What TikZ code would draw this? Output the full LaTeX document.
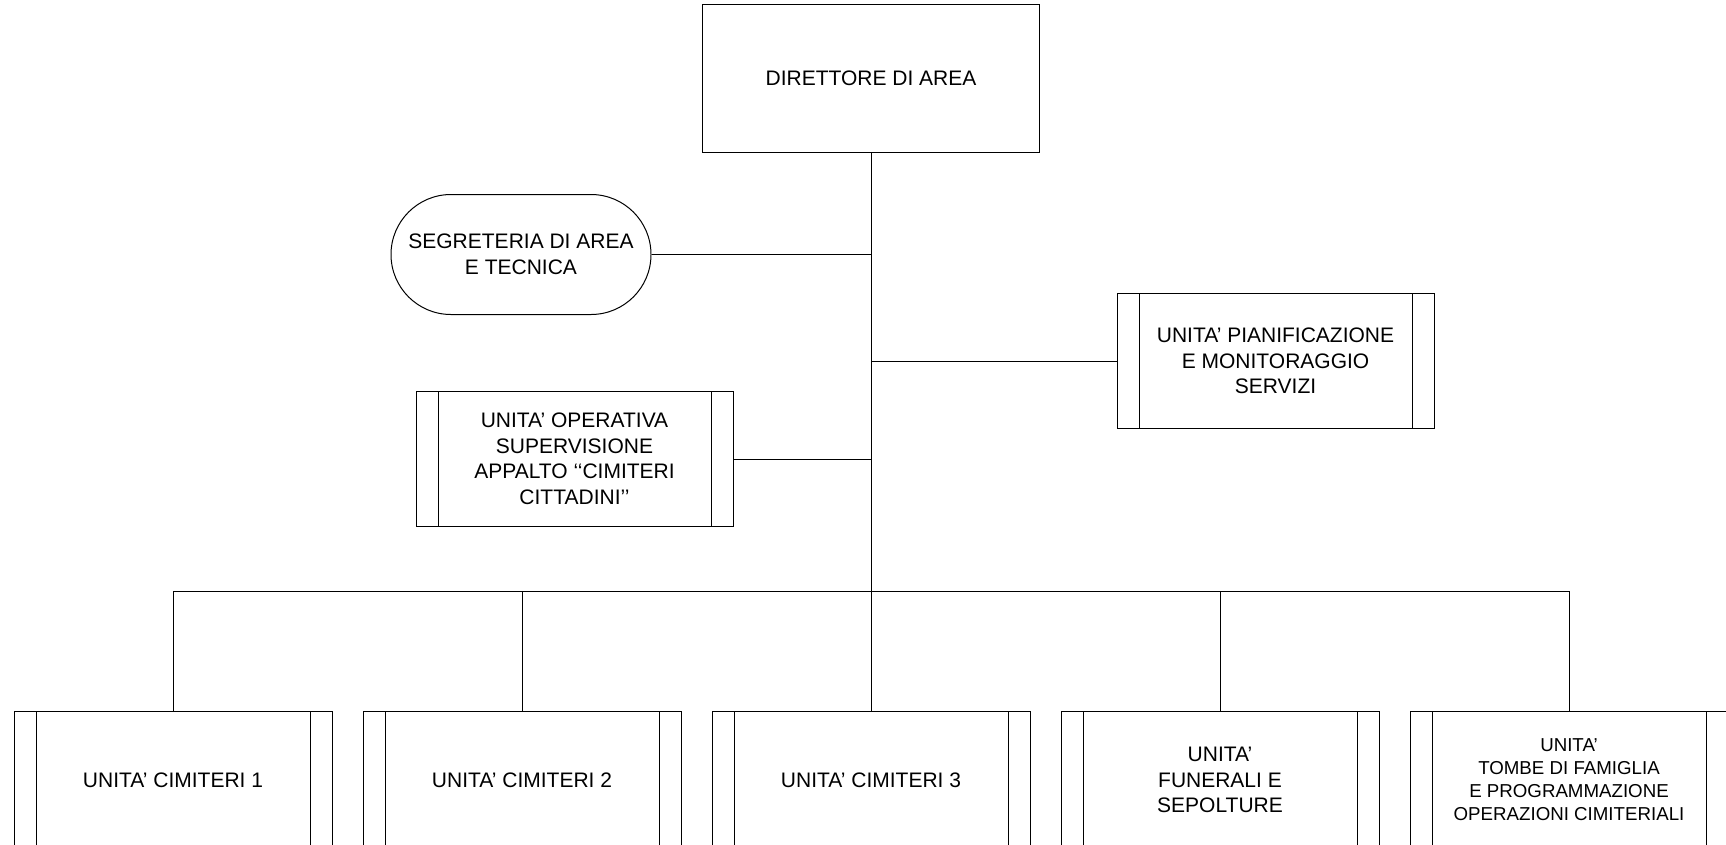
\documentclass[tikz,border=0pt]{standalone}
\usepackage{fontspec}
\setmainfont{Liberation Sans}
\begin{document}
\begin{tikzpicture}[x=1pt,y=-1pt, line width=1pt,
  box/.style={draw, line width=1pt, rectangle, align=center, inner sep=0pt,
    font=\fontsize{21}{25.5}\selectfont},
  unit/.style={box, minimum width=318pt, minimum height=136pt,
    path picture={
      \draw[line width=1pt] ([xshift=22pt]path picture bounding box.north west) -- ([xshift=22pt]path picture bounding box.south west);
      \draw[line width=1pt] ([xshift=-22pt]path picture bounding box.north east) -- ([xshift=-22pt]path picture bounding box.south east);
    }},
  small/.style={font=\fontsize{18.7}{23}\selectfont}
]
\useasboundingbox (0,0) rectangle (1726,844);
\clip (0,0) rectangle (1726,844);

\node[box, minimum width=337pt, minimum height=148pt] (dir) at (871,78) {DIRETTORE DI AREA};
\node[box, minimum width=260pt, minimum height=120pt, rounded corners=60pt] (seg) at (521,254.5) {SEGRETERIA DI AREA\\E TECNICA};
\node[unit, minimum width=317pt, minimum height=135pt] (pian) at (1275.5,361) {UNITA’ PIANIFICAZIONE\\E MONITORAGGIO\\SERVIZI};
\node[unit, minimum width=317pt, minimum height=135pt] (op) at (574.5,459) {UNITA’ OPERATIVA\\SUPERVISIONE\\APPALTO ‘‘CIMITERI\\CITTADINI’’};

\node[unit, minimum height=138pt] (u1) at (173,780) {UNITA’ CIMITERI 1};
\node[unit, minimum height=138pt] (u2) at (522,780) {UNITA’ CIMITERI 2};
\node[unit, minimum height=138pt] (u3) at (871,780) {UNITA’ CIMITERI 3};
\node[unit, minimum height=138pt] (u4) at (1220,780) {UNITA’\\FUNERALI E\\SEPOLTURE};
\node[unit, minimum height=138pt, small] (u5) at (1569,780) {UNITA’\\TOMBE DI FAMIGLIA\\E PROGRAMMAZIONE\\OPERAZIONI CIMITERIALI};

\coordinate (bus) at (871,591);
\coordinate (jseg) at (dir.south |- seg.east);
\coordinate (jpian) at (dir.south |- pian.west);
\coordinate (jop) at (dir.south |- op.east);
\coordinate (b1) at (u1.north |- bus);
\coordinate (b2) at (u2.north |- bus);
\coordinate (b3) at (u3.north |- bus);
\coordinate (b4) at (u4.north |- bus);
\coordinate (b5) at (u5.north |- bus);

\draw (dir.south) -- (bus);
\draw (seg.east) -- (jseg);
\draw (pian.west) -- (jpian);
\draw (op.east) -- (jop);
\draw (b1) -- (b5);
\draw (b1) -- (u1.north);
\draw (b2) -- (u2.north);
\draw (b3) -- (u3.north);
\draw (b4) -- (u4.north);
\draw (b5) -- (u5.north);
\end{tikzpicture}
\end{document}
